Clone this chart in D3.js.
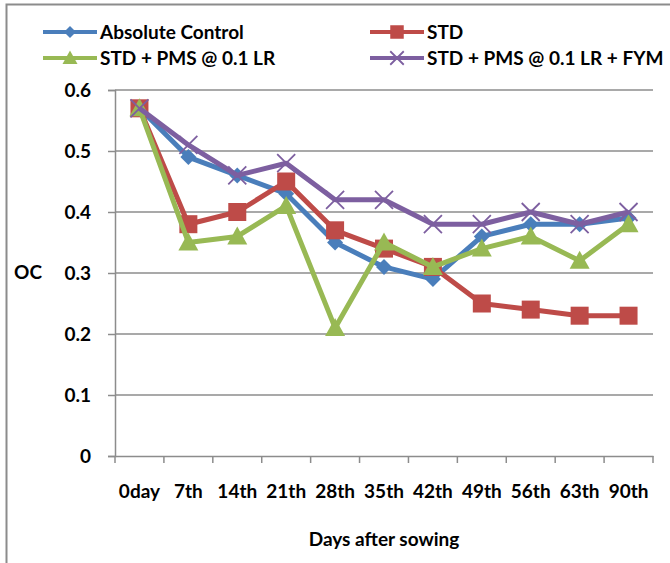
<!DOCTYPE html>
<html>
<head>
<meta charset="utf-8">
<script src="https://cdn.jsdelivr.net/npm/d3@7"></script>
<style>
  body { margin: 0; background: #fff; }
  text { font-family: Lato, "Liberation Sans", sans-serif; font-weight: bold; fill: #000; }
</style>
</head>
<body>
<script>
// Data
const days = ["0day", "7th", "14th", "21th", "28th", "35th", "42th", "49th", "56th", "63th", "90th"];
const absoluteControl = [0.57, 0.49, 0.46, 0.43, 0.35, 0.31, 0.29, 0.36, 0.38, 0.38, 0.39];
const std = [0.57, 0.38, 0.40, 0.45, 0.37, 0.34, 0.31, 0.25, 0.24, 0.23, 0.23];
const stdPms = [0.57, 0.35, 0.36, 0.41, 0.21, 0.35, 0.31, 0.34, 0.36, 0.32, 0.38];
const stdPmsFym = [0.57, 0.51, 0.46, 0.48, 0.42, 0.42, 0.38, 0.38, 0.40, 0.38, 0.40];
const yTicks = [0, 0.1, 0.2, 0.3, 0.4, 0.5, 0.6];

const series = [
  { name: "Absolute Control", values: absoluteControl, color: "#4A7EBB", marker: "diamond" },
  { name: "STD", values: std, color: "#BE4B48", marker: "square" },
  { name: "STD + PMS @ 0.1 LR", values: stdPms, color: "#98B954", marker: "triangle" },
  { name: "STD + PMS @ 0.1 LR + FYM", values: stdPmsFym, color: "#7D5FA0", marker: "cross" }
];

// Constants
const SVG_WIDTH = 670;
const SVG_HEIGHT = 563;
const MARGIN = { top: 90, right: 17, bottom: 107, left: 115 };
const CHART_WIDTH = SVG_WIDTH - MARGIN.left - MARGIN.right;
const CHART_HEIGHT = SVG_HEIGHT - MARGIN.top - MARGIN.bottom;
const FONT = "19px";

const svg = d3.select("body")
  .append("svg")
  .attr("width", SVG_WIDTH)
  .attr("height", SVG_HEIGHT);

// Outer frame (only left and top visible)
svg.append("rect")
  .attr("x", 6.5)
  .attr("y", 4.5)
  .attr("width", 700)
  .attr("height", 600)
  .attr("fill", "none")
  .attr("stroke", "#8c8c8c")
  .attr("stroke-width", 2);

const chartGroup = svg.append("g")
  .attr("transform", `translate(${MARGIN.left}, ${MARGIN.top})`);

// Scales
const xScale = d3.scaleBand()
  .domain(days)
  .range([0, CHART_WIDTH]);

const yScale = d3.scaleLinear()
  .domain([0, 0.6])
  .range([CHART_HEIGHT, 0]);

// Gridlines
chartGroup.append("g")
  .selectAll("line")
  .data(yTicks.slice(1))
  .enter()
  .append("line")
  .attr("x1", 0)
  .attr("x2", CHART_WIDTH)
  .attr("y1", (d) => yScale(d))
  .attr("y2", (d) => yScale(d))
  .attr("stroke", "#8c8c8c")
  .attr("stroke-width", 1.5);

// Y axis
const yAxis = chartGroup.append("g")
  .call(d3.axisLeft(yScale).tickValues(yTicks).tickSize(7).tickPadding(17).tickFormat((d) => d3.format("")(d)));

yAxis.selectAll("text").style("font-size", FONT);

// X axis
const xAxis = chartGroup.append("g")
  .attr("transform", `translate(0, ${CHART_HEIGHT})`)
  .call(d3.axisBottom(xScale).tickSize(0).tickPadding(29));

xAxis.selectAll("text").style("font-size", FONT);

// Category boundary ticks
xAxis.selectAll(".boundary")
  .data(d3.range(days.length + 1))
  .enter()
  .append("line")
  .attr("class", "boundary")
  .attr("x1", (i) => i * xScale.step())
  .attr("x2", (i) => i * xScale.step())
  .attr("y1", 0)
  .attr("y2", 7)
  .attr("stroke", "#8c8c8c")
  .attr("stroke-width", 1.5);

svg.selectAll(".domain, .tick line")
  .attr("stroke", "#8c8c8c")
  .attr("stroke-width", 1.5);

// Axis titles
svg.append("text")
  .attr("x", 28)
  .attr("y", 279)
  .attr("text-anchor", "middle")
  .style("font-size", FONT)
  .text("OC");

svg.append("text")
  .attr("x", 384)
  .attr("y", 546)
  .attr("text-anchor", "middle")
  .style("font-size", FONT)
  .text("Days after sowing");

// Markers
function drawMarker(g, type, color, k = 1) {
  if (type === "diamond") {
    g.append("path").attr("d", `M0,${-8 * k}L${8 * k},0L0,${8 * k}L${-8 * k},0Z`).attr("fill", color);
  } else if (type === "square") {
    g.append("rect").attr("x", -9 * k).attr("y", -9 * k).attr("width", 18 * k).attr("height", 18 * k).attr("fill", color);
  } else if (type === "triangle") {
    g.append("path").attr("d", `M0,${-10 * k}L${10 * k},${8 * k}L${-10 * k},${8 * k}Z`).attr("fill", color);
  } else {
    g.append("path").attr("d", `M${-9 * k},${-9 * k}L${9 * k},${9 * k}M${-9 * k},${9 * k}L${9 * k},${-9 * k}`)
      .attr("stroke", color).attr("stroke-width", 1.8);
  }
}

const line = d3.line()
  .x((d, i) => xScale(days[i]) + xScale.bandwidth() / 2)
  .y((d) => yScale(d));

series.forEach((s) => {
  const g = chartGroup.append("g");
  g.append("path")
    .datum(s.values)
    .attr("fill", "none")
    .attr("stroke", s.color)
    .attr("stroke-width", 5)
    .attr("stroke-linejoin", "round")
    .attr("d", line);

  s.values.forEach((v, i) => {
    const m = g.append("g")
      .attr("transform", `translate(${xScale(days[i]) + xScale.bandwidth() / 2}, ${yScale(v)})`);
    drawMarker(m, s.marker, s.color);
  });
});

// Legend
const legendPos = [[43, 32], [370, 32], [43, 58], [370, 58]];
series.forEach((s, i) => {
  const [lx, ly] = legendPos[i];
  const g = svg.append("g").attr("transform", `translate(${lx}, ${ly})`);
  g.append("line")
    .attr("x1", 0)
    .attr("x2", 54)
    .attr("stroke", s.color)
    .attr("stroke-width", 4);
  const m = g.append("g").attr("transform", "translate(27, 0)");
  drawMarker(m, s.marker, s.color, 0.75);
  g.append("text")
    .attr("x", 57)
    .attr("y", 7)
    .style("font-size", FONT)
    .text(s.name);
});
</script>
</body>
</html>
